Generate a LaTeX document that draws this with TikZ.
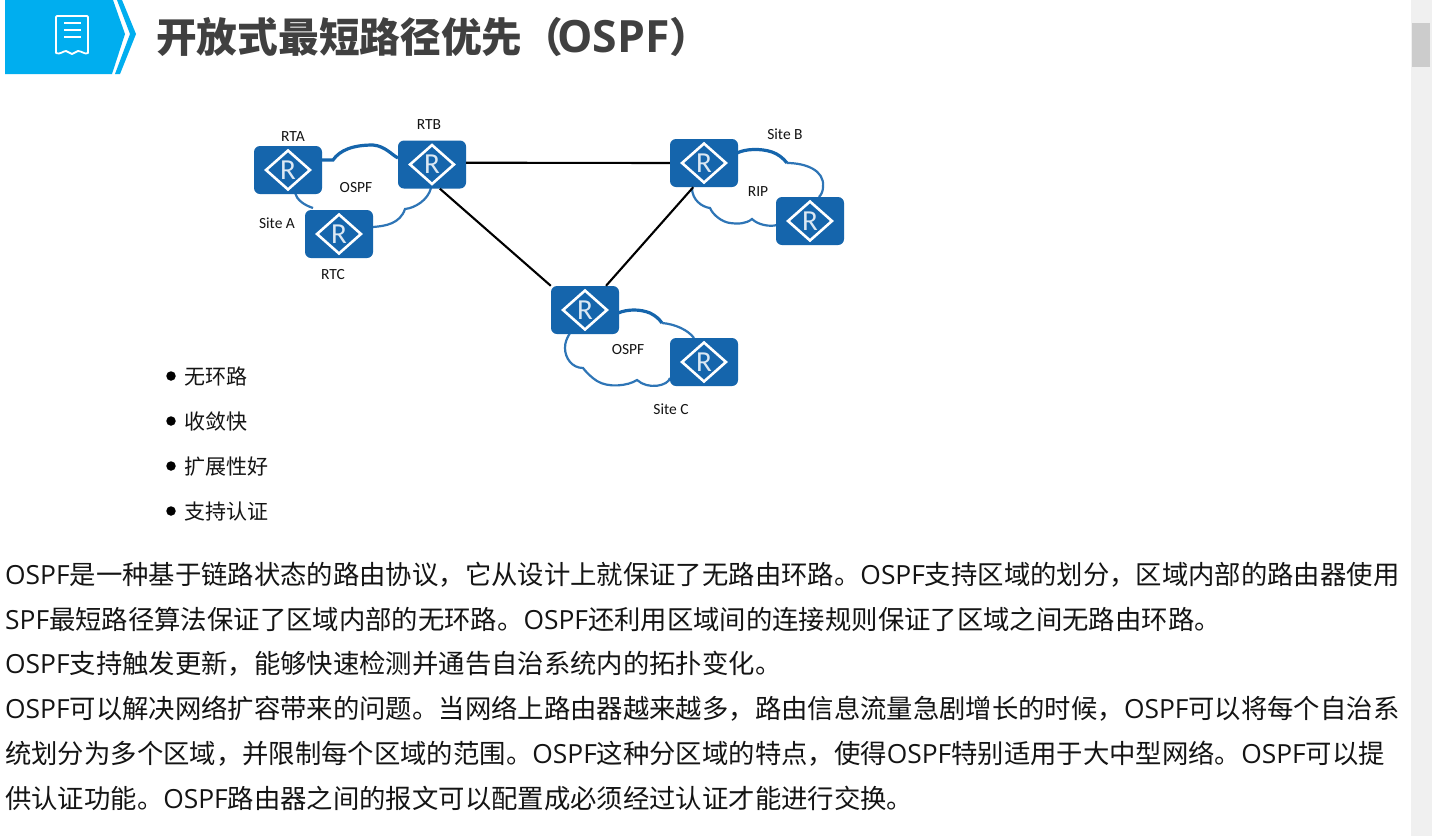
\documentclass[tikz,border=0pt]{standalone}
\usepackage{fontspec}
\usetikzlibrary{shapes.geometric}
\setmainfont{Noto Sans CJK SC}
\newfontfamily\latf{Open Sans}
\newfontfamily\labf{Carlito}
\newcommand{\lat}[1]{{\latf #1}}
\definecolor{bannerblue}{HTML}{00AEEF}
\definecolor{routerblue}{HTML}{1565AC}
\definecolor{cloudblue}{HTML}{2E75B6}
\definecolor{titlegray}{HTML}{404040}
\tikzset{
  routerbox/.style={fill=routerblue,rounded corners=6pt,minimum width=68pt,minimum height=48pt,inner sep=0pt},
  routerdia/.style={diamond,draw=white,line width=2.6pt,minimum width=45pt,minimum height=40pt,aspect=1.12,inner sep=0pt,text=white!85!routerblue,font=\labf\fontsize{29}{29}\selectfont},
  link/.style={line width=2.1pt,black},
  cloudline/.style={line width=2.2pt,cloudblue},
  cloudtop/.style={line width=3.2pt,routerblue},
  netlabel/.style={font=\labf\fontsize{15.5}{15.5}\selectfont,text=black!92,inner sep=0pt},
  bodyline/.style={anchor=base west,inner sep=0pt,font=\fontsize{26.36}{26.4}\selectfont,text=black!92},
  bulletline/.style={anchor=base west,inner sep=0pt,font=\fontsize{21}{21}\selectfont,text=black!92},
  bulletdot/.style={circle,fill=black,minimum size=9.5pt,inner sep=0pt},
}
\begin{document}
\begin{tikzpicture}[x=1pt,y=-1pt]
\useasboundingbox (0,0) rectangle (1432,836);
\fill[white] (0,0) rectangle (1432,836);
% scrollbar
\fill[black!6] (1411,0) rectangle (1432,836);
\fill[black!20] (1412,23) rectangle (1430,67);
% banner
\fill[bannerblue] (5,0) -- (113,0) -- (125,34) -- (112,74) -- (5,74) -- cycle;
\fill[bannerblue] (117,0) -- (122,0) -- (136,34) -- (120,74) -- (115,74) -- (130,34) -- cycle;
% receipt icon
\draw[white,line width=1.8pt,line join=round] (57,16) -- (87,16) -- (88,17) -- (88,53)
  .. controls (85,55) and (82,51) .. (78,51) .. controls (75,51) and (75,54) .. (72,54)
  .. controls (69,54) and (69,51) .. (66,51) .. controls (63,51) and (60,55) .. (56,53) -- (56,17) -- cycle;
\draw[white,line width=1.8pt] (64,23) -- (81,23) (64,30) -- (81,30) (64,37) -- (81,37);
% title
\node[anchor=base west,inner sep=0pt,text=titlegray,font=\bfseries\fontsize{40.7}{41}\selectfont] (title) at (156,52) {开放式最短路径优先（\hspace{-6pt}{\fontsize{44.5}{45}\selectfont\lat{OSPF}}）};
% clouds
\draw[cloudtop] (321,160) -- (333,160) .. controls (340,150) and (353,145) .. (373,145) .. controls (385,146) and (392,155) .. (398,158);
\draw[cloudline] (295,193) .. controls (297,200) and (304,205) .. (313,208);
\draw[cloudline] (373,227) .. controls (385,226) and (400,224) .. (405,209) .. controls (415,208) and (428,200) .. (431,188);
\draw[cloudtop] (737,153) .. controls (745,149) and (760,148) .. (772,152) .. controls (778,154) and (783,158) .. (787,163);
\draw[cloudline] (787,163) .. controls (805,163) and (825,170) .. (823,187) .. controls (823,190) and (822,194) .. (819,197);
\draw[cloudline] (777,225) .. controls (770,227) and (758,225) .. (752,219) .. controls (746,224) and (738,224) .. (730,223) .. controls (722,222) and (713,215) .. (710,208) .. controls (702,207) and (692,200) .. (692,188);
\draw[cloudtop] (618,313) .. controls (628,309) and (640,309) .. (650,313) .. controls (656,316) and (659,319) .. (662,323);
\draw[cloudline] (662,323) .. controls (675,324) and (688,330) .. (694,338);
\draw[cloudline] (670,378) .. controls (668,386) and (648,390) .. (637,380) .. controls (628,386) and (608,388) .. (597,381) .. controls (592,378) and (586,372) .. (583,368) .. controls (572,368) and (565,358) .. (565,348) .. controls (565,342) and (567,338) .. (570,333);
% routers
\foreach \nm/\px/\py in {rta/288/170,rtb/432/164.5,rtc/339/234,rtr/704/163,rip/810/221,mid/585/310,sitec/704/362}{
  \node[routerbox] (\nm) at (\px,\py) {};
  \node[routerdia] (\nm-d) at (\nm) {R};
}
% links
\draw[link] (rtb.3.4) -- (rtr.west);
\draw[link] (rtb.-72) -- (mid.north west);
\draw[link] (rtr.246) -- (mid.49);
% labels
\node[netlabel] (l1) at (293,137) {RTA};
\node[netlabel] (l2) at (429,124.5) {RTB};
\node[netlabel] (l3) at (333,275) {RTC};
\node[netlabel] (l4) at (356,188) {OSPF};
\node[netlabel] (l5) at (277,223) {Site A};
\node[netlabel] (l6) at (785,134.5) {Site B};
\node[netlabel] (l7) at (758,192) {RIP};
\node[netlabel] (l8) at (628,350) {OSPF};
\node[netlabel] (l9) at (671,409) {Site C};
% bullets
\foreach \nm/\py/\tx in {a/376/无环路,b/421/收敛快,c/466/扩展性好,d/511/支持认证}{
  \node[bulletdot] (dot\nm) at (171,\py) {};
  \node[bulletline] (bul\nm) at (184,\py+8) {\tx};
}
% body
\node[bodyline] (t1) at (5,584) {\lat{OSPF}是一种基于链路状态的路由协议，它从设计上就保证了无路由环路。\lat{OSPF}支持区域的划分，区域内部的路由器使用};
\node[bodyline] (t2) at (5,629) {\lat{SPF}最短路径算法保证了区域内部的无环路。\lat{OSPF}还利用区域间的连接规则保证了区域之间无路由环路。};
\node[bodyline] (t3) at (5,673) {\lat{OSPF}支持触发更新，能够快速检测并通告自治系统内的拓扑变化。};
\node[bodyline] (t4) at (5,718) {\lat{OSPF}可以解决网络扩容带来的问题。当网络上路由器越来越多，路由信息流量急剧增长的时候，\lat{OSPF}可以将每个自治系};
\node[bodyline] (t5) at (5,763) {统划分为多个区域，并限制每个区域的范围。\lat{OSPF}这种分区域的特点，使得\lat{OSPF}特别适用于大中型网络。\lat{OSPF}可以提};
\node[bodyline] (t6) at (5,808) {供认证功能。\lat{OSPF}路由器之间的报文可以配置成必须经过认证才能进行交换。};
\end{tikzpicture}
\end{document}
